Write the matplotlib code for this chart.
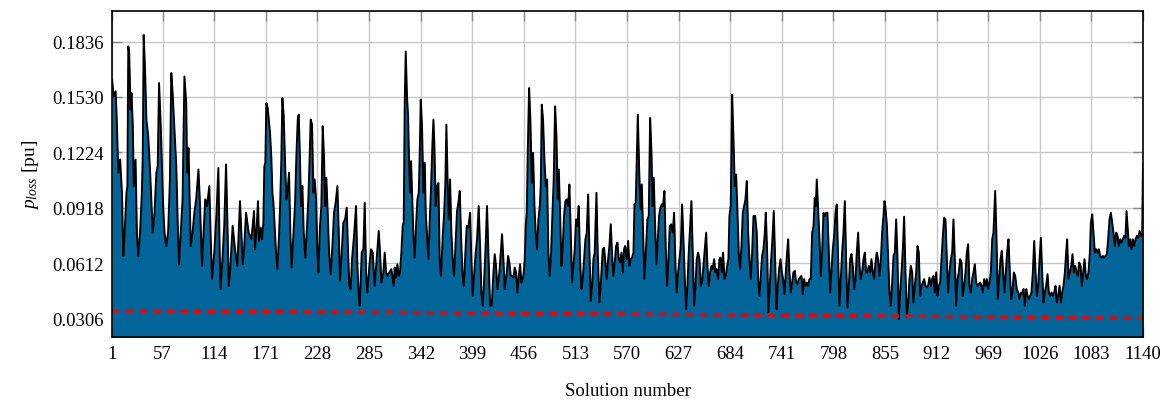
import numpy as np
import matplotlib
matplotlib.use("Agg")
import matplotlib.pyplot as plt

# power loss per solution (vertices of the black line)
sol_x = [
    1, 3, 5, 6, 8, 10, 12, 13.5, 15, 17, 18, 19, 20, 21.5, 22.5, 24, 25, 27, 28.5, 30,
    32, 34, 35, 36, 37.5, 39, 41, 43, 46, 48, 50, 51.5, 53, 55, 57.5, 59, 61, 63, 65, 66.5,
    68, 70, 72, 73.5, 75, 77, 79, 81, 83, 84, 85.5, 88, 90, 92, 94, 96.5, 98, 100.5, 102, 104,
    106, 108.5, 110, 111.5, 114, 116.5, 118.5, 120, 121, 123, 125, 127, 128.5, 130,
    131.4, 134.3, 136.9, 139.5, 142.4, 145.4, 146.9, 149.1, 152.0, 155.0, 157.9, 159.0, 160.9,
    162.3, 163.4, 165.3, 166.7, 168.2, 169.3, 170.4, 171.5, 173.0, 174.5, 175.6, 177.1, 178.2,
    179.3, 180.7, 182.2, 183.7, 185.5, 186.6, 188.1, 189.2, 190.7, 192.2, 193.6, 195.1, 196.6,
    198.0, 199.5, 201.4, 203.2, 204.7, 206.2, 207.3, 208.7, 209.8, 211.3, 212.8, 214.6, 216.5,
    217.9, 219.4, 220.5, 222.0, 223.5, 224.9, 226.4, 227.9, 229.0, 230.8, 232.3, 233.8, 235.3,
    236.4, 237.8, 239.3, 240.8, 242.6, 244.5, 246.3, 248.1, 250.0, 251.5, 252.9, 254.8, 256.6,
    258.5, 260.3, 261.8, 263.2, 264.7, 266.2, 268.4, 270.6, 272.1, 273.6, 274.7,
    276.9, 278.7, 280.2, 281.7, 283.1, 285.3, 287.2, 289.0, 291.2, 293.4, 295.7, 297.1, 298.6,
    300.8, 302.3, 303.8, 305.2, 307.4, 309.6, 311.1, 312.2, 313.3, 314.8, 316.3, 317.8, 319.2,
    320.7, 322.2, 323.3, 324.4, 325.5, 326.9, 328.1, 329.2, 330.3, 331.4, 332.9, 334.0, 335.4,
    336.9, 338.4, 339.9, 340.9, 342.1, 343.5, 345.0, 346.5, 347.6, 349.1, 350.5, 352.0, 353.5,
    354.9, 356.1, 357.2, 358.6, 360.1, 361.6, 363.1, 364.5, 366.4, 367.8, 369.3, 370.4, 371.9,
    373.0, 374.5, 375.9, 377.4, 378.9, 380.7, 382.2, 383.7, 385.2, 386.6, 388.1, 389.6, 391.4,
    392.9, 394.7, 396.6, 398.0, 399.5, 401.3, 402.8, 404.3, 406.1, 407.6, 409.1, 410.6, 412.0,
    413.5, 415.3, 416.8, 418.7,
    420.5, 422.4, 423.8, 425.3, 426.8, 429.0, 430.5, 431.9, 433.4, 434.9, 437.1, 438.6, 440.0,
    441.5, 443.0, 444.5, 445.9, 447.4, 448.9, 450.4, 451.8, 453.3, 454.8, 455.9, 457.0, 458.1,
    459.2, 460.3, 461.8, 463.2, 464.7, 466.2, 467.7, 469.1, 470.6, 472.1, 473.6, 474.7, 475.8,
    477.2, 478.7, 480.2, 481.7, 483.1, 484.6, 486.1, 487.6, 489.0, 490.5, 492.0, 493.4, 494.6,
    496.0, 497.5, 499.0, 500.4, 501.9, 503.4, 504.9, 506.3, 507.8, 509.3, 510.8, 512.2, 513.7,
    515.2, 516.6, 518.1, 519.6, 521.1, 522.5, 524.0, 525.5, 527.0, 528.4, 529.9, 531.4, 532.9,
    534.3, 536.2, 537.6, 539.5, 541.3, 543.2, 544.6, 546.1, 547.6, 549.1, 550.5, 552.0, 553.5,
    555.0, 556.4, 557.9, 559.4, 560.8, 562.3, 563.8, 565.3, 566.7, 567.8,
    569.7, 571.2, 572.6, 574.1, 575.6, 577.1, 578.2, 579.6, 580.7, 581.9, 583.3, 584.8, 586.3,
    587.7, 589.2, 591.1, 592.5, 594.0, 595.5, 597.0, 598.1, 599.5, 601.0, 602.5, 604.0, 605.4,
    606.9, 608.4, 609.8, 611.3, 612.8, 614.3, 615.7, 617.2, 618.7, 620.5, 622.0, 623.5, 624.9,
    626.4, 627.9, 629.4, 630.8, 632.3, 633.8, 635.3, 636.7, 638.2, 639.7, 641.1, 642.6, 644.1,
    645.6, 647.0, 648.5, 650.0, 651.5, 652.9, 654.4, 655.9, 657.4, 658.8, 660.3, 661.8, 663.2,
    664.7, 666.2, 667.7, 669.1, 670.6, 672.1, 673.2, 674.7, 676.1, 677.6, 679.1, 680.6, 682.0,
    683.1, 684.6, 686.1, 687.6, 689.0, 690.5, 692.0, 693.4, 694.9, 696.4, 697.9, 699.3, 700.8,
    702.3, 703.8, 705.2, 706.7, 708.2, 709.7, 711.5,
    713.3, 714.8, 716.3, 717.8, 719.2, 720.7, 722.2, 723.3, 724.8, 726.2, 727.7, 729.2, 730.6,
    732.1, 733.6, 735.1, 736.5, 738.0, 739.5, 741.0, 742.4, 743.9, 745.4, 746.8, 748.0, 749.4,
    750.9, 752.4, 753.8, 755.3, 756.8, 758.3, 759.7, 761.2, 762.7, 764.2, 765.6, 767.1, 768.6,
    770.1, 771.5, 773.0, 774.5, 776.0, 777.4, 778.5, 779.6, 781.1, 782.6, 784.1, 785.5, 787.0,
    788.5, 790.0, 791.4, 792.9, 794.4, 795.8, 797.3, 798.8, 800.3, 801.7, 803.2, 804.7, 806.2,
    807.6, 809.1, 810.6, 812.0, 813.5, 815.0, 816.5, 817.9, 819.4, 820.9, 822.4, 823.8, 825.3,
    826.8, 828.2, 829.7, 831.2, 832.7, 834.1, 835.6, 837.1, 838.6, 840.0, 841.5, 843.0, 844.5,
    845.9, 847.4, 848.9, 850.3, 851.8, 853.3, 854.4, 855.1,
    857.0, 858.5, 859.9, 861.4, 862.9, 864.4, 865.8, 867.3, 868.8, 870.2, 871.7, 873.2, 874.7,
    876.1, 877.6, 879.1, 880.6, 882.0, 883.5, 885.0, 886.4, 887.9, 889.4, 890.9, 892.3, 893.8,
    895.3, 896.8, 898.2, 899.7, 901.2, 902.6, 904.1, 905.6, 907.1, 908.5, 910.0, 911.5, 913.0,
    914.4, 915.9, 917.4, 918.9, 920.3, 921.8, 923.3, 924.7, 926.2, 927.7, 929.2, 930.6, 932.1,
    933.6, 935.1, 936.5, 938.0, 939.5, 940.9, 942.4, 943.9, 945.4, 946.8, 948.3, 949.8, 951.3,
    952.7, 954.2, 955.7, 957.2, 958.6, 960.1, 961.6, 963.0, 964.5, 966.0, 967.5, 968.9, 970.4,
    971.9, 973.4, 974.8, 976.7, 978.2, 979.6, 981.1, 982.6, 984.0, 985.5, 987.0, 988.5, 989.9,
    991.4, 992.9, 994.4, 995.8, 997.3, 998.8,
    1000.6, 1002.1, 1003.6, 1005.1, 1006.5, 1008.0, 1009.5, 1011.0, 1012.4, 1013.9, 1015.4,
    1016.8, 1018.3, 1019.8, 1021.3, 1022.7, 1024.2, 1025.7, 1027.2, 1028.6, 1030.1, 1031.6,
    1033.0, 1034.5, 1036.0, 1037.5, 1038.9, 1040.4, 1041.9, 1043.4, 1044.8, 1046.3, 1047.8,
    1049.3, 1050.7, 1052.2, 1053.7, 1055.1, 1056.2, 1057.7, 1059.2, 1060.7, 1062.1, 1063.6,
    1065.1, 1066.6, 1068.0, 1069.5, 1071.0, 1072.5, 1073.9, 1075.4, 1076.9, 1078.3, 1079.8,
    1081.3, 1082.4, 1083.9, 1085.3, 1086.8, 1088.3, 1089.8, 1091.2, 1092.7, 1094.2, 1095.7,
    1097.1, 1098.6, 1100.1, 1101.5, 1103.0, 1104.5, 1106.0, 1107.4, 1108.9, 1110.4, 1111.9,
    1113.3, 1114.8, 1116.3, 1117.8, 1119.2, 1120.7, 1121.8, 1122.9, 1124.4, 1125.9, 1127.3,
    1128.8, 1130.3, 1131.8, 1133.2, 1134.7, 1136.2, 1137.6, 1139.1, 1140,
]
p_loss = [
    0.1625, 0.1533, 0.1561, 0.1441, 0.1111, 0.1184, 0.1000, 0.0651, 0.0780, 0.1000, 0.1037,
    0.1809, 0.1772, 0.1460, 0.1551, 0.1368, 0.1037, 0.1184, 0.0780, 0.0651, 0.0780, 0.1000,
    0.1202, 0.1873, 0.1680, 0.1405, 0.1313, 0.1129, 0.0780, 0.0890, 0.1111, 0.1147, 0.1607,
    0.1349, 0.0927, 0.0780, 0.0706, 0.0780, 0.1074, 0.1662, 0.1551, 0.1349, 0.1147, 0.0853,
    0.0605, 0.0780, 0.0964, 0.1643, 0.1496, 0.1111, 0.1248, 0.0706, 0.0780, 0.0890, 0.0964,
    0.1129, 0.0964, 0.0596, 0.0762, 0.0964, 0.0927, 0.1037, 0.0762, 0.0523, 0.0670, 0.0890,
    0.1138, 0.0670, 0.0468, 0.0633, 0.0817, 0.1157, 0.0835, 0.0486,
    0.0560, 0.0817, 0.0688, 0.0596, 0.0954, 0.0605, 0.0688, 0.0890, 0.0780, 0.0743, 0.0899,
    0.0688, 0.0817, 0.0954, 0.0734, 0.0808, 0.0743, 0.0835, 0.1147, 0.1166, 0.1496, 0.1469,
    0.1386, 0.1331, 0.1184, 0.1000, 0.0945, 0.0817, 0.0670, 0.0578, 0.0762, 0.0909, 0.1184,
    0.1524, 0.1423, 0.1166, 0.0964, 0.1019, 0.1111, 0.0780, 0.0587, 0.0762, 0.0936, 0.1202,
    0.1405, 0.1432, 0.1184, 0.0927, 0.1037, 0.0780, 0.0642, 0.0817, 0.0964, 0.1202, 0.1405,
    0.1377, 0.1000, 0.1074, 0.0964, 0.0670, 0.0560, 0.0817, 0.0927, 0.1368, 0.1184, 0.0927,
    0.1083, 0.0890, 0.0670, 0.0550, 0.0706, 0.0890, 0.0945, 0.1037, 0.0780, 0.0514, 0.0670,
    0.0835, 0.0853, 0.0918, 0.0670, 0.0486, 0.0468, 0.0633, 0.0762, 0.0927, 0.0596, 0.0431,
    0.0376,
    0.0670, 0.0688, 0.0945, 0.0560, 0.0449, 0.0596, 0.0688, 0.0670, 0.0486, 0.0633, 0.0789,
    0.0670, 0.0504, 0.0560, 0.0670, 0.0560, 0.0541, 0.0560, 0.0578, 0.0523, 0.0486, 0.0587,
    0.0532, 0.0605, 0.0541, 0.0560, 0.0670, 0.0817, 0.0835, 0.1496, 0.1781, 0.1533, 0.1423,
    0.1166, 0.1000, 0.1175, 0.0927, 0.0762, 0.0642, 0.0817, 0.0964, 0.1000, 0.1202, 0.1515,
    0.1368, 0.1000, 0.1166, 0.0890, 0.0762, 0.0633, 0.0835, 0.1037, 0.1258, 0.1405, 0.1258,
    0.0927, 0.1037, 0.1055, 0.0615, 0.0541, 0.0762, 0.0872, 0.1055, 0.1377, 0.1037, 0.0853,
    0.1074, 0.0780, 0.0633, 0.0541, 0.0743, 0.0899, 0.0945, 0.1010, 0.0762, 0.0560, 0.0486,
    0.0670, 0.0817, 0.0808, 0.0890, 0.0633, 0.0431, 0.0560, 0.0670, 0.0743, 0.0927, 0.0706,
    0.0449, 0.0376, 0.0504, 0.0670, 0.0927, 0.0670, 0.0376,
    0.0376, 0.0560, 0.0661, 0.0596, 0.0468, 0.0560, 0.0670, 0.0771, 0.0633, 0.0468, 0.0560,
    0.0651, 0.0615, 0.0541, 0.0541, 0.0532, 0.0587, 0.0560, 0.0449, 0.0541, 0.0605, 0.0504,
    0.0523, 0.0560, 0.0633, 0.0817, 0.0890, 0.1221, 0.1579, 0.1405, 0.1055, 0.1221, 0.0927,
    0.0780, 0.0688, 0.0853, 0.0927, 0.1037, 0.1487, 0.1405, 0.1184, 0.1037, 0.1074, 0.0670,
    0.0541, 0.0670, 0.0890, 0.1074, 0.1478, 0.1313, 0.0964, 0.1129, 0.0890, 0.0596, 0.0706,
    0.0872, 0.0954, 0.0964, 0.0927, 0.1046, 0.0780, 0.0504, 0.0596, 0.0688, 0.0853, 0.0817,
    0.0927, 0.0633, 0.0468, 0.0523, 0.0633, 0.0743, 0.0780, 0.0991, 0.0688, 0.0403, 0.0486,
    0.0633, 0.0670, 0.1000, 0.0670, 0.0394, 0.0523, 0.0688, 0.0697, 0.0615, 0.0523, 0.0633,
    0.0706, 0.0826, 0.0651, 0.0541, 0.0615, 0.0706, 0.0725, 0.0633, 0.0615, 0.0670, 0.0560,
    0.0688, 0.0706,
    0.0633, 0.0734, 0.0596, 0.0633, 0.0642, 0.0670, 0.0936, 0.0945, 0.1184, 0.1432, 0.1147,
    0.0909, 0.1046, 0.0780, 0.0523, 0.0706, 0.0853, 0.0872, 0.1414, 0.1221, 0.0927, 0.1083,
    0.0817, 0.0605, 0.0743, 0.0872, 0.0918, 0.0936, 0.0927, 0.1010, 0.0688, 0.0486, 0.0633,
    0.0817, 0.0826, 0.0780, 0.0890, 0.0596, 0.0449, 0.0560, 0.0633, 0.0706, 0.0936, 0.0743,
    0.0523, 0.0357, 0.0486, 0.0670, 0.0817, 0.0954, 0.0670, 0.0376, 0.0486, 0.0633, 0.0670,
    0.0633, 0.0486, 0.0504, 0.0596, 0.0688, 0.0780, 0.0596, 0.0486, 0.0560, 0.0596, 0.0578,
    0.0633, 0.0560, 0.0578, 0.0523, 0.0633, 0.0642, 0.0560, 0.0670, 0.0523, 0.0541, 0.0596,
    0.0633, 0.0872, 0.0927, 0.1542, 0.1294, 0.1037, 0.1101, 0.0890, 0.0670, 0.0578, 0.0706,
    0.0890, 0.0927, 0.0964, 0.1065, 0.0780, 0.0633, 0.0523, 0.0670, 0.0872, 0.0872,
    0.0780, 0.0523, 0.0431, 0.0541, 0.0651, 0.0688, 0.0780, 0.0890, 0.0670, 0.0339, 0.0486,
    0.0633, 0.0743, 0.0899, 0.0633, 0.0357, 0.0486, 0.0578, 0.0633, 0.0560, 0.0523, 0.0440,
    0.0560, 0.0670, 0.0743, 0.0560, 0.0449, 0.0504, 0.0560, 0.0569, 0.0504, 0.0495, 0.0523,
    0.0532, 0.0541, 0.0440, 0.0523, 0.0486, 0.0504, 0.0486, 0.0523, 0.0523, 0.0780, 0.0817,
    0.0973, 0.0927, 0.1074, 0.0909, 0.0743, 0.0541, 0.0670, 0.0890, 0.0872, 0.0890, 0.0890,
    0.0670, 0.0449, 0.0560, 0.0688, 0.0762, 0.0890, 0.0936, 0.0633, 0.0376, 0.0523, 0.0670,
    0.0780, 0.0954, 0.0633, 0.0366, 0.0486, 0.0633, 0.0661, 0.0596, 0.0468, 0.0523, 0.0670,
    0.0780, 0.0596, 0.0523, 0.0560, 0.0633, 0.0670, 0.0560, 0.0560, 0.0596, 0.0560, 0.0633,
    0.0560, 0.0523, 0.0615, 0.0670, 0.0633, 0.0541, 0.0615, 0.0780, 0.0872, 0.0954, 0.0936,
    0.0826, 0.0633, 0.0449, 0.0376, 0.0504, 0.0651, 0.0670, 0.0853, 0.0633, 0.0302, 0.0449,
    0.0560, 0.0688, 0.0868, 0.0560, 0.0312, 0.0394, 0.0523, 0.0596, 0.0560, 0.0394, 0.0486,
    0.0560, 0.0706, 0.0670, 0.0431, 0.0486, 0.0504, 0.0523, 0.0486, 0.0477, 0.0486, 0.0532,
    0.0486, 0.0523, 0.0541, 0.0449, 0.0560, 0.0431, 0.0486, 0.0504, 0.0633, 0.0762, 0.0863,
    0.0853, 0.0633, 0.0449, 0.0560, 0.0633, 0.0670, 0.0853, 0.0633, 0.0376, 0.0523, 0.0560,
    0.0633, 0.0615, 0.0431, 0.0486, 0.0560, 0.0670, 0.0716, 0.0486, 0.0449, 0.0523, 0.0560,
    0.0605, 0.0504, 0.0486, 0.0495, 0.0504, 0.0486, 0.0449, 0.0523, 0.0486, 0.0523, 0.0468,
    0.0504, 0.0560, 0.0743, 0.0780, 0.1010, 0.0743, 0.0413, 0.0523, 0.0633, 0.0679, 0.0560,
    0.0449, 0.0560, 0.0670, 0.0743, 0.0560, 0.0413, 0.0449, 0.0560, 0.0541,
    0.0468, 0.0449, 0.0413, 0.0449, 0.0440, 0.0468, 0.0376, 0.0468, 0.0431, 0.0413, 0.0431,
    0.0449, 0.0560, 0.0734, 0.0560, 0.0431, 0.0486, 0.0633, 0.0752, 0.0560, 0.0394, 0.0449,
    0.0486, 0.0550, 0.0449, 0.0431, 0.0449, 0.0431, 0.0449, 0.0486, 0.0394, 0.0431, 0.0486,
    0.0394, 0.0449, 0.0486, 0.0560, 0.0670, 0.0743, 0.0523, 0.0560, 0.0596, 0.0661, 0.0560,
    0.0596, 0.0560, 0.0541, 0.0615, 0.0596, 0.0486, 0.0560, 0.0633, 0.0541, 0.0523, 0.0560,
    0.0670, 0.0835, 0.0881, 0.0780, 0.0670, 0.0688, 0.0670, 0.0688, 0.0651, 0.0642, 0.0651,
    0.0642, 0.0651, 0.0661, 0.0743, 0.0853, 0.0890, 0.0835, 0.0780, 0.0706, 0.0780, 0.0762,
    0.0706, 0.0743, 0.0725, 0.0743, 0.0762, 0.0752, 0.0899, 0.0817, 0.0706, 0.0743, 0.0688,
    0.0743, 0.0706, 0.0743, 0.0762, 0.0752, 0.0789, 0.0762, 0.0771, 0.1160,
]

# lower bound (red dashed)
bound_x = [1, 285, 570, 855, 1140]
bound_y = [0.0348, 0.0340, 0.0330, 0.0319, 0.0306]

xticks = [1] + list(range(57, 1141, 57))
yticks = [0.0306, 0.0612, 0.0918, 0.1224, 0.1530, 0.1836]

plt.rcParams['font.family'] = ['Liberation Serif', 'DejaVu Serif']
plt.rcParams['mathtext.fontset'] = 'custom'
plt.rcParams['mathtext.rm'] = 'Liberation Serif'
plt.rcParams['mathtext.it'] = 'Liberation Serif:italic'

fig = plt.figure(figsize=(11.69, 4.06), dpi=100)
ax = fig.add_axes([112 / 1169, 1 - 338 / 406, (1143 - 112) / 1169, (338 - 12) / 406])

ax.fill_between(sol_x, p_loss, 0, color='#03669a', lw=0, zorder=2)
ax.plot(sol_x, p_loss, color='black', lw=1.4, zorder=3)
ax.plot(bound_x, bound_y, color='red', lw=2.4, dashes=(2.4, 1.7), zorder=4)

ax.set_xlim(1, 1140)
ax.set_ylim(0.0203, 0.2005)
ax.set_xticks(xticks)
ax.set_yticks(yticks)
ax.set_yticklabels([f"{v:.4f}" for v in yticks])
ax.grid(True, color='#c8c8c8', lw=1.0, zorder=1)
ax.set_axisbelow(True)
ax.tick_params(direction='in', length=7, width=1, color='#888888',
               top=True, right=True, labelsize=13.5, pad=6)
for s in ax.spines.values():
    s.set_linewidth(1.2)
    s.set_zorder(5)

ax.set_xlabel("Solution number", fontsize=13.5, labelpad=14)
ax.set_ylabel(r"$p_{loss}$ [pu]", fontsize=14, labelpad=8)

fig.savefig("out.png", dpi=100)
